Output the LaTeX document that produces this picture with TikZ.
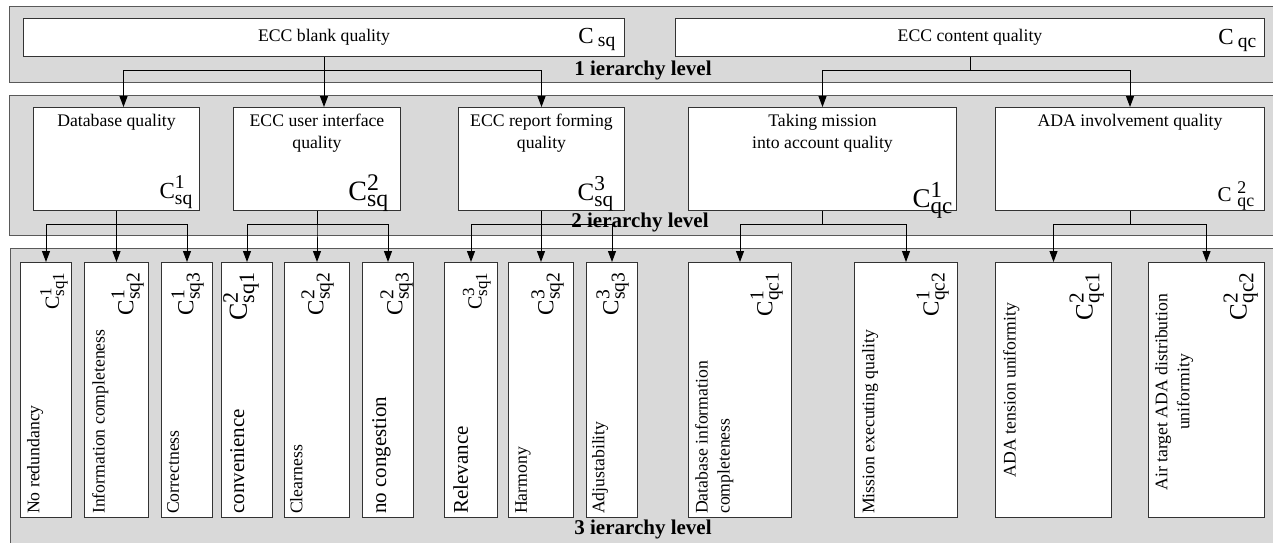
\documentclass[tikz,border=0pt]{standalone}
\usepackage{fontspec}
\setmainfont{Liberation Serif}
\usetikzlibrary{arrows.meta}
\def\defaultscriptratio{.85}

\tikzset{
  panel/.style={draw=black!65, fill=black!15, line width=1pt},
  box/.style={draw=black!80, fill=white, line width=1pt, anchor=north west, inner sep=0pt},
  leaf/.style={box, minimum height=255pt},
  txt/.style={font=\fontsize{17.7}{22}\selectfont},
  bigtxt/.style={font=\fontsize{21}{23}\selectfont},
  lvl/.style={font=\fontsize{21}{24}\selectfont\bfseries, anchor=base, inner sep=0pt},
  htext/.style={txt, anchor=north, align=center, inner sep=0pt},
  vtext/.style={txt, rotate=90, anchor=north west, inner sep=0pt, align=left},
  ctext/.style={txt, rotate=90, anchor=north, inner sep=0pt, align=center},
  vlab/.style={rotate=90, anchor=south east, inner sep=0pt, font=\fontsize{23}{26}\selectfont},
  lab/.style={anchor=base east, inner sep=0pt},
  arr/.style={-{Triangle[length=11pt,width=8pt]}, line width=1pt},
}

\begin{document}
\begin{tikzpicture}[x=1pt, y=-1pt]
 \useasboundingbox (0,0) rectangle (1273,542);
 % panels of the three levels
 \draw[panel] (9,6) rectangle (1276,82);
 \draw[panel] (9,95) rectangle (1276,235);
 \draw[panel] (10,248) rectangle (1276,546);
 \node[lvl] (lev1) at (643,75) {1 ierarchy level};
 \node[lvl] (lev2) at (640,227) {2 ierarchy level};
 \node[lvl] (lev3) at (643,534) {3 ierarchy level};

 % level 1
 \node[box, txt, minimum width=601pt, minimum height=38pt] (blank) at (23,18) {ECC blank quality};
 \node[box, txt, minimum width=589pt, minimum height=38pt] (cont) at (675,18) {ECC content quality};
 \node[lab, font=\fontsize{23}{26}\selectfont] (blankc) at ([xshift=-9pt,yshift=14pt]blank.south east) {$\mathrm{C}\,_{\mathrm{sq}}$};
 \node[lab, font=\fontsize{23}{26}\selectfont] (contc) at ([xshift=-8pt,yshift=13pt]cont.south east) {$\mathrm{C}\,_{\mathrm{qc}}$};

 % level 2
 \node[box, minimum width=166pt, minimum height=103pt] (db) at (33,107) {};
 \node[box, minimum width=167pt, minimum height=103pt] (ui) at (233,107) {};
 \node[box, minimum width=166pt, minimum height=103pt] (rep) at (458,107) {};
 \node[box, minimum width=268pt, minimum height=103pt] (task) at (688,107) {};
 \node[box, minimum width=269pt, minimum height=103pt] (ada) at (995,107) {};
 \node[htext] (dbt) at ([yshift=-7pt]db.north) {Database quality};
 \node[htext] (uit) at ([yshift=-7pt]ui.north) {ECC user interface\\quality};
 \node[htext] (rept) at ([yshift=-7pt]rep.north) {ECC report forming\\quality};
 \node[htext] (taskt) at ([yshift=-7pt]task.north) {Taking mission\\into account quality};
 \node[htext] (adat) at ([yshift=-7pt]ada.north) {ADA involvement quality};
 \node[lab, font=\fontsize{23}{26}\selectfont] (dbc) at ([xshift=-7pt,yshift=13pt]db.south east) {$\mathrm{C}^{\mathrm{1}}_{\mathrm{sq}}$};
 \node[lab, font=\fontsize{28}{31}\selectfont] (uic) at ([xshift=-12pt,yshift=11pt]ui.south east) {$\mathrm{C}^{\mathrm{2}}_{\mathrm{sq}}$};
 \node[lab, font=\fontsize{25}{28}\selectfont] (repc) at ([xshift=-11pt,yshift=11pt]rep.south east) {$\mathrm{C}^{\mathrm{3}}_{\mathrm{sq}}$};
 \node[lab, font=\fontsize{27}{30}\selectfont] (taskc) at ([xshift=-4pt,yshift=4pt]task.south east) {$\mathrm{C}^{\mathrm{1}}_{\mathrm{qc}}$};
 \node[lab, font=\fontsize{21}{24}\selectfont] (adac) at ([xshift=-10pt,yshift=10pt]ada.south east) {$\mathrm{C}\;{}^{\mathrm{2}}_{\mathrm{qc}}$};

 % level 3
 \node[leaf, minimum width=51pt] (l1) at (20,262) {};
 \node[leaf, minimum width=64pt] (l2) at (84,262) {};
 \node[leaf, minimum width=51pt] (l3) at (161,262) {};
 \node[leaf, minimum width=51pt] (l4) at (221,262) {};
 \node[leaf, minimum width=65pt] (l5) at (284,262) {};
 \node[leaf, minimum width=51pt] (l6) at (362,262) {};
 \node[leaf, minimum width=53pt] (l7) at (444,262) {};
 \node[leaf, minimum width=65pt] (l8) at (508,262) {};
 \node[leaf, minimum width=51pt] (l9) at (586,262) {};
 \node[leaf, minimum width=103pt] (l10) at (688,262) {};
 \node[leaf, minimum width=103pt] (l11) at (854,262) {};
 \node[leaf, minimum width=116pt] (l12) at (995,262) {};
 \node[leaf, minimum width=116pt] (l13) at (1148,262) {};

 \node[vtext] (t1) at ([xshift=7pt,yshift=4pt]l1.south west) {No redundancy};
 \node[vtext] (t2) at ([xshift=8pt,yshift=4pt]l2.south west) {Information completeness};
 \node[vtext] (t3) at ([xshift=6pt,yshift=4pt]l3.south west) {Correctness};
 \node[vtext, bigtxt] (t4) at ([xshift=9pt,yshift=4pt]l4.south west) {convenience};
 \node[vtext] (t5) at ([xshift=6pt,yshift=4pt]l5.south west) {Clearness};
 \node[vtext, bigtxt] (t6) at ([xshift=10pt,yshift=4pt]l6.south west) {no congestion};
 \node[vtext, bigtxt] (t7) at ([xshift=9pt,yshift=4pt]l7.south west) {Relevance};
 \node[vtext] (t8) at ([xshift=7pt,yshift=4pt]l8.south west) {Harmony};
 \node[vtext] (t9) at ([xshift=6pt,yshift=4pt]l9.south west) {Adjustability};
 \node[vtext] (t10) at ([xshift=7pt,yshift=4pt]l10.south west) {Database information\\completeness};
 \node[vtext] (t11) at ([xshift=8pt,yshift=4pt]l11.south west) {Mission executing quality};
 \node[ctext] (t12) at ([xshift=8pt]l12.west) {ADA tension uniformity};
 \node[ctext] (t13) at ([xshift=7pt,yshift=-2pt]l13.west) {Air target ADA distribution\\uniformity};

 \node[vlab, font=\fontsize{20}{23}\selectfont] (c1) at ([xshift=-4pt,yshift=-10pt]l1.north east) {$\mathrm{C}^{\mathrm{1}}_{\mathrm{sq1}}$};
 \node[vlab] (c2) at ([xshift=-5pt,yshift=-10pt]l2.north east) {$\mathrm{C}^{\mathrm{1}}_{\mathrm{sq2}}$};
 \node[vlab] (c3) at ([xshift=-9pt,yshift=-10pt]l3.north east) {$\mathrm{C}^{\mathrm{1}}_{\mathrm{sq3}}$};
 \node[vlab, font=\fontsize{26}{29}\selectfont] (c4) at ([xshift=-14pt,yshift=-10pt]l4.north east) {$\mathrm{C}^{\mathrm{2}}_{\mathrm{sq1}}$};
 \node[vlab] (c5) at ([xshift=-16pt,yshift=-10pt]l5.north east) {$\mathrm{C}^{\mathrm{2}}_{\mathrm{sq2}}$};
 \node[vlab] (c6) at ([xshift=-1pt,yshift=-10pt]l6.north east) {$\mathrm{C}^{\mathrm{2}}_{\mathrm{sq3}}$};
 \node[vlab, font=\fontsize{20}{23}\selectfont] (c7) at ([xshift=-7pt,yshift=-10pt]l7.north east) {$\mathrm{C}^{\mathrm{3}}_{\mathrm{sq1}}$};
 \node[vlab] (c8) at ([xshift=-10pt,yshift=-10pt]l8.north east) {$\mathrm{C}^{\mathrm{3}}_{\mathrm{sq2}}$};
 \node[vlab] (c9) at ([xshift=-9pt,yshift=-10pt]l9.north east) {$\mathrm{C}^{\mathrm{3}}_{\mathrm{sq3}}$};
 \node[vlab] (c10) at ([xshift=-9pt,yshift=-10pt]l10.north east) {$\mathrm{C}^{\mathrm{1}}_{\mathrm{qc1}}$};
 \node[vlab] (c11) at ([xshift=-9pt,yshift=-10pt]l11.north east) {$\mathrm{C}^{\mathrm{1}}_{\mathrm{qc2}}$};
 \node[vlab, font=\fontsize{25}{28}\selectfont] (c12) at ([xshift=-8pt,yshift=-10pt]l12.north east) {$\mathrm{C}^{\mathrm{2}}_{\mathrm{qc1}}$};
 \node[vlab, font=\fontsize{25}{28}\selectfont] (c13) at ([xshift=-7pt,yshift=-10pt]l13.north east) {$\mathrm{C}^{\mathrm{2}}_{\mathrm{qc2}}$};

 % connectors
 \draw[arr] (blank.south) -- ++(0,13) -| ([xshift=7pt]db.north);
 \draw[arr] (blank.south) -- (blank.south |- ui.north);
 \draw[arr] (blank.south) -- ++(0,13) -| (rep.north);
 \draw[arr] (cont.south) -- ++(0,13) -| (task.north);
 \draw[arr] (cont.south) -- ++(0,13) -| (ada.north);
 \foreach \p/\c in {db/l1, db/l2, db/l3, ui/l4, ui/l5, ui/l6, rep/l7, rep/l8, rep/l9,
                    task/l10, task/l11, ada/l12, ada/l13}
   \draw[arr] (\p.south) -- ++(0,13) -| (\c.north);
\end{tikzpicture}
\end{document}
